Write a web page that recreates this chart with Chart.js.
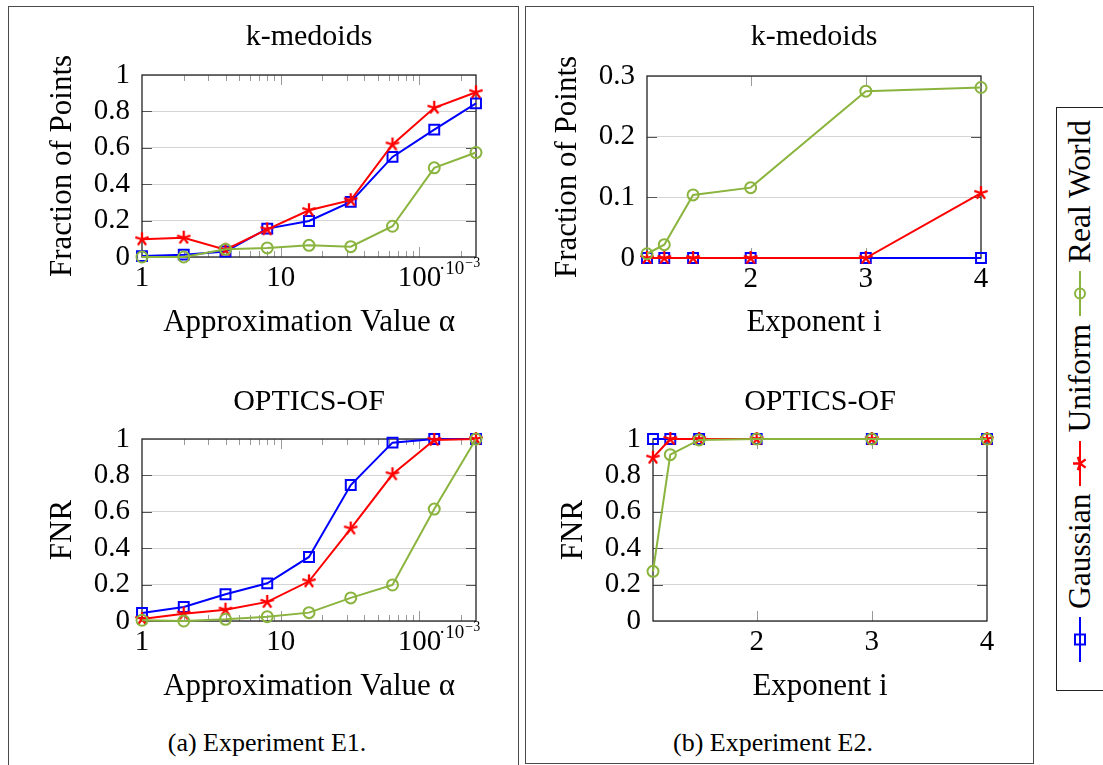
<!DOCTYPE html>
<html>
<head>
<meta charset="utf-8">
<script src="https://cdn.jsdelivr.net/npm/chart.js@4.4.1/dist/chart.umd.min.js"></script>
<style>
  body { margin: 0; background: #fff; width: 1103px; height: 765px; overflow: hidden; position: relative;
         font-family: "Liberation Serif", "DejaVu Serif", serif; color: #000; }
  .panel { position: absolute; border: 1.6px solid #4a4a4a; box-sizing: border-box; }
  canvas { position: absolute; }
  .caption { position: absolute; width: 320px; text-align: center; font-size: 26px; line-height: 30px; }
  #legend { position: absolute; left: 1056px; top: 107px; width: 48px; height: 584px;
            border: 1px solid #222; box-sizing: border-box; }
  #legendInner { position: absolute; left: 0; top: 0; width: 582px; height: 46px; box-sizing: border-box;
                 transform-origin: 0 0; transform: translateY(582px) rotate(-90deg);
                 display: flex; align-items: center; padding-left: 28px; font-size: 31.5px; white-space: nowrap; }
  #legendInner svg { flex: none; margin: 0 8px 0 0; }
  #legendInner span { line-height: 1; margin-right: 8px; }
</style>
</head>
<body>
<div class="panel" style="left:8px; top:6px; width:511px; height:790px"></div>
<div class="panel" style="left:525px; top:6px; width:509px; height:758px"></div>

<canvas id="kmE1" width="462" height="341" style="left:44px; top:0px"></canvas>
<canvas id="ofE1" width="462" height="345" style="left:44px; top:360px"></canvas>
<canvas id="kmE2" width="452" height="341" style="left:549px; top:0px"></canvas>
<canvas id="ofE2" width="452" height="345" style="left:555px; top:360px"></canvas>

<div class="caption" style="left:107px; top:728px">(a) Experiment E1.</div>
<div class="caption" style="left:613px; top:728px">(b) Experiment E2.</div>

<div id="legend"><div id="legendInner"></div></div>

<script>
const FONT = '"Liberation Serif", "DejaVu Serif", serif';

// Experiment E1: approximation value alpha (x 10^-3)
const alphaE1 = [1, 2, 4, 8, 16, 32, 64, 128, 256];
const kmGaussE1 = [0.005, 0.013, 0.03, 0.156, 0.198, 0.303, 0.55, 0.70, 0.844];
const kmUnifE1 = [0.097, 0.106, 0.04, 0.152, 0.257, 0.312, 0.618, 0.82, 0.905];
const kmRealE1 = [0.0, 0.0, 0.042, 0.05, 0.064, 0.057, 0.169, 0.49, 0.574];
const ofGaussE1 = [0.044, 0.077, 0.147, 0.207, 0.352, 0.747, 0.98, 1.0, 1.0];
const ofUnifE1 = [0.011, 0.04, 0.062, 0.105, 0.218, 0.508, 0.806, 0.995, 1.0];
const ofRealE1 = [0.004, 0.0, 0.009, 0.024, 0.046, 0.127, 0.198, 0.615, 1.0];

// Experiment E2: exponent i
const expE2 = [1.1, 1.25, 1.5, 2, 3, 4];
const kmGaussE2 = [0, 0, 0, 0, 0, 0];
const kmUnifE2 = [0, 0, 0, 0, 0, 0.107];
const kmRealE2 = [0.007, 0.022, 0.104, 0.116, 0.275, 0.281];
const ofGaussE2 = [1, 1, 1, 1, 1, 1];
const ofUnifE2 = [0.897, 1, 1, 1, 1, 1];
const ofRealE2 = [0.273, 0.914, 0.995, 1, 1, 1];

// axis ticks
const logMajorE1 = [1, 10, 100];
const logMinorE1 = [2, 3, 4, 5, 6, 7, 8, 9, 20, 30, 40, 50, 60, 70, 80, 90, 200];
const xTicksE2 = [2, 3, 4];
const yTicksFrac = [0, 0.2, 0.4, 0.6, 0.8, 1];
const yTicksSmall = [0, 0.1, 0.2, 0.3];

const seriesNames = ['Gaussian', 'Uniform', 'Real World'];
const BLUE = '#0000ff', RED = '#ff0000', GREEN = '#8ab43e';

// 5-spoke asterisk marker (pgfplots "star")
function starPoints(cx, cy, r) {
  const pts = [];
  for (let k = 0; k < 5; k++) {
    const a = -Math.PI / 2 + k * 2 * Math.PI / 5;
    pts.push([cx + r * Math.cos(a), cy + r * Math.sin(a)]);
  }
  return pts;
}
function makeStar(color) {
  const c = document.createElement('canvas');
  c.width = 18; c.height = 18;
  const g = c.getContext('2d');
  g.strokeStyle = color; g.lineWidth = 2.3;
  g.beginPath();
  starPoints(9, 9, 7).forEach(p => { g.moveTo(9, 9); g.lineTo(p[0], p[1]); });
  g.stroke();
  return c;
}
const starImg = makeStar(RED);

function series(label, xs, ys, color, style, radius, order) {
  return {
    label,
    data: xs.map((x, i) => ({ x, y: ys[i] })),
    borderColor: color,
    borderWidth: 2,
    pointStyle: style,
    pointRadius: radius,
    pointBorderWidth: 2,
    pointBorderColor: color,
    pointBackgroundColor: 'rgba(0,0,0,0)',
    tension: 0,
    clip: false,
    order
  };
}

const frameTicks = {
  id: 'frameTicks',
  beforeDatasetsDraw(chart, args, o) {
    const { ctx, chartArea: a } = chart;
    const xs = chart.scales.x, ys = chart.scales.y;
    ctx.save();
    ctx.lineWidth = 1;
    const vtick = (v, len) => {
      const px = Math.round(xs.getPixelForValue(v)) + 0.5;
      if (px < a.left + 2 || px > a.right - 2) return;
      ctx.strokeStyle = '#9a9a9a';
      ctx.beginPath();
      ctx.moveTo(px, a.bottom); ctx.lineTo(px, a.bottom - len);
      ctx.moveTo(px, a.top); ctx.lineTo(px, a.top + len);
      ctx.stroke();
    };
    (o.xMinor || []).forEach(v => vtick(v, 6));
    (o.xMajor || []).forEach(v => vtick(v, 10));
    (o.yMajor || []).forEach(v => {
      const py = Math.round(ys.getPixelForValue(v)) + 0.5;
      if (py < a.top + 2 || py > a.bottom - 2) return;
      ctx.strokeStyle = '#555';
      ctx.beginPath();
      ctx.moveTo(a.left, py); ctx.lineTo(a.left + 10, py);
      ctx.moveTo(a.right, py); ctx.lineTo(a.right - 10, py);
      ctx.stroke();
    });
    ctx.strokeStyle = '#222';
    ctx.lineWidth = 1.3;
    ctx.strokeRect(a.left, a.top, a.right - a.left, a.bottom - a.top);
    ctx.restore();
  },
  afterDraw(chart, args, o) {
    if (!o.exponent) return;
    const { ctx, chartArea: a } = chart;
    ctx.save();
    ctx.fillStyle = '#000';
    ctx.textBaseline = 'alphabetic';
    ctx.font = '19px ' + FONT;
    const x0 = a.right - 37, y0 = a.bottom + 17;
    ctx.fillText('·10', x0, y0);
    const w = ctx.measureText('·10').width;
    ctx.font = '14px ' + FONT;
    ctx.fillText('−3', x0 + w + 1, y0 - 7);
    ctx.restore();
  }
};

function makeChart(id, o) {
  const font = size => ({ family: FONT, size, weight: 'normal' });
  return new Chart(document.getElementById(id), {
    type: 'line',
    data: {
      datasets: [
        series(seriesNames[0], o.x, o.gauss, BLUE, 'rect', 7, 3),
        series(seriesNames[1], o.x, o.unif, RED, starImg, 6, 2),
        series(seriesNames[2], o.x, o.real, GREEN, 'circle', 5.5, 1)
      ]
    },
    options: {
      responsive: false,
      animation: false,
      events: [],
      layout: { padding: { left: 0, top: 0, bottom: 0, right: o.padRight } },
      plugins: {
        legend: { display: false },
        tooltip: { enabled: false },
        title: {
          display: true, text: o.title, fullSize: false, color: '#000', font: font(30),
          padding: { top: o.titleTop, bottom: o.titleBottom }
        },
        frameTicks: { xMajor: o.xMajor, xMinor: o.xMinor, yMajor: o.yTicks, exponent: o.exponent }
      },
      scales: {
        x: {
          type: o.xType, min: o.xMin, max: o.xMax,
          afterFit: s => { s.height = o.xHeight; },
          afterBuildTicks: s => { s.ticks = o.xMajor.map(v => ({ value: v })); },
          grid: { display: false, drawTicks: false },
          border: { display: false },
          ticks: { autoSkip: false, maxRotation: 0, padding: 4, color: '#000', font: font(29),
                   callback: v => String(v) },
          title: { display: true, text: o.xTitle, color: '#000', font: font(31), padding: 0 }
        },
        y: {
          type: 'linear', min: o.yMin, max: o.yMax,
          afterFit: s => { s.width = 98; },
          afterBuildTicks: s => { s.ticks = o.yTicks.map(v => ({ value: v })); },
          grid: { color: '#d4d4d4', lineWidth: 1, drawTicks: false },
          border: { display: false },
          ticks: { autoSkip: false, padding: 12, color: '#000', font: font(29), callback: v => String(v) },
          title: { display: true, text: o.yTitle, color: '#000', font: font(31), padding: 0 }
        }
      }
    },
    plugins: [frameTicks]
  });
}

const e1 = { x: alphaE1, xType: 'logarithmic', xMin: 1, xMax: 256, xMajor: logMajorE1, xMinor: logMinorE1,
             xTitle: 'Approximation Value α', padRight: 30, exponent: true };
const e2 = { x: expE2, xType: 'linear', xMin: 1.1, xMax: 4, xMajor: xTicksE2, xMinor: [],
             xTitle: 'Exponent i', padRight: 20, exponent: false };

makeChart('kmE1', Object.assign({}, e1, {
  gauss: kmGaussE1, unif: kmUnifE1, real: kmRealE1, title: 'k-medoids', yTitle: 'Fraction of Points',
  yMin: 0, yMax: 1, yTicks: yTicksFrac, titleTop: 19, titleBottom: 20, xHeight: 84
}));
makeChart('ofE1', Object.assign({}, e1, {
  gauss: ofGaussE1, unif: ofUnifE1, real: ofRealE1, title: 'OPTICS-OF', yTitle: 'FNR',
  yMin: 0, yMax: 1, yTicks: yTicksFrac, titleTop: 24, titleBottom: 19, xHeight: 84
}));
makeChart('kmE2', Object.assign({}, e2, {
  gauss: kmGaussE2, unif: kmUnifE2, real: kmRealE2, title: 'k-medoids', yTitle: 'Fraction of Points',
  yMin: 0, yMax: 0.3, yTicks: yTicksSmall, titleTop: 19, titleBottom: 21, xHeight: 83
}));
makeChart('ofE2', Object.assign({}, e2, {
  gauss: ofGaussE2, unif: ofUnifE2, real: ofRealE2, title: 'OPTICS-OF', yTitle: 'FNR',
  yMin: 0, yMax: 1, yTicks: yTicksFrac, titleTop: 24, titleBottom: 19, xHeight: 84
}));

// rotated legend
function legendSvg(color, kind) {
  let mark = '';
  if (kind === 'rect') {
    mark = `<rect x="17.5" y="5" width="10" height="10" fill="none" stroke="${color}" stroke-width="2"/>`;
  } else if (kind === 'star') {
    mark = starPoints(22.5, 10, 7).map(p =>
      `<line x1="22.5" y1="10" x2="${p[0]}" y2="${p[1]}" stroke="${color}" stroke-width="2.3"/>`).join('');
  } else {
    mark = `<circle cx="22.5" cy="10" r="5" fill="none" stroke="${color}" stroke-width="2"/>`;
  }
  return `<svg width="45" height="20" viewBox="0 0 45 20"><line x1="0" y1="10" x2="45" y2="10" stroke="${color}" stroke-width="2"/>${mark}</svg>`;
}
const legendColors = [BLUE, RED, GREEN];
const legendKinds = ['rect', 'star', 'circle'];
document.getElementById('legendInner').innerHTML = seriesNames.map((n, i) =>
  legendSvg(legendColors[i], legendKinds[i]) + `<span>${n}</span>`).join('');
</script>
</body>
</html>
